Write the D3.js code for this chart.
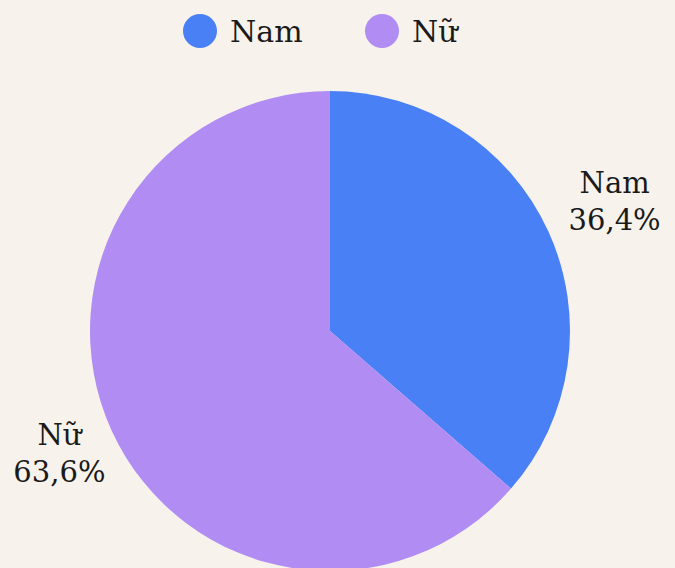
<!DOCTYPE html>
<html>
<head>
<meta charset="utf-8">
<script src="https://cdn.jsdelivr.net/npm/d3@7"></script>
<style>
  body { margin: 0; background: #f7f3ec; }
  text { font-family: "DejaVu Serif", "Liberation Serif", serif; fill: #1a1a1a; }
</style>
</head>
<body>
<div id="container"></div>
<script>
// data
var categories = ["Nam", "Nữ"];
var values = [36.4, 63.6];
var colors = ["#4a80f5", "#b08cf3"];

var width = 675, height = 568;
var cx = 330, cy = 331, radius = 240;

var svg = d3.select("#container")
  .append("svg")
    .attr("width", width)
    .attr("height", height);

svg.append("rect")
  .attr("width", width)
  .attr("height", height)
  .style("fill", "#f7f3ec");

var pie = d3.pie().sort(null).value(function(d) { return d; });
var arcs = pie(values);

var arc = d3.arc().innerRadius(0).outerRadius(radius);
var labelArc = d3.arc().innerRadius(305).outerRadius(305);

var g = svg.append("g")
  .attr("transform", "translate(" + cx + "," + cy + ")");

g.selectAll("path")
  .data(arcs)
  .enter().append("path")
    .attr("d", arc)
    .style("fill", function(d, i) { return colors[i]; });

var labels = g.selectAll(".lbl")
  .data(arcs)
  .enter().append("text")
    .attr("class", "lbl")
    .attr("transform", function(d) {
      var c = labelArc.centroid(d);
      return "translate(" + (c[0] + 7) + "," + c[1] + ")";
    })
    .style("text-anchor", "middle")
    .style("font-size", "29px");

labels.append("tspan")
  .attr("x", 0)
  .attr("y", -12)
  .text(function(d, i) { return categories[i]; });
labels.append("tspan")
  .attr("x", 0)
  .attr("y", 25)
  .text(function(d) { return d.data.toFixed(1).replace(".", ",") + "%"; });

// legend
var legendX = [200, 382];
var legend = svg.selectAll(".legend")
  .data(categories)
  .enter().append("g")
    .attr("class", "legend")
    .attr("transform", function(d, i) { return "translate(" + legendX[i] + ",31)"; });

legend.append("circle")
  .attr("r", 17)
  .style("fill", function(d, i) { return colors[i]; });

legend.append("text")
  .attr("x", 30)
  .attr("dy", "0.35em")
  .style("font-size", "30px")
  .text(function(d) { return d; });
</script>
</body>
</html>
